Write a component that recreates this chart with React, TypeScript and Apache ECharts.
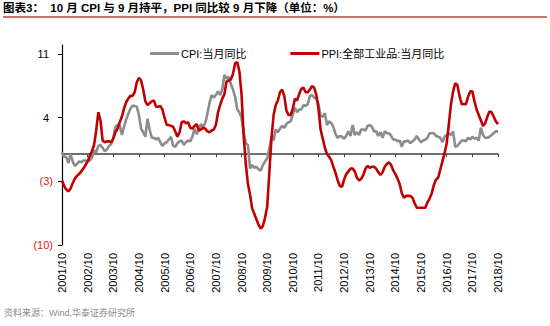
import React, { useEffect, useRef } from 'react';
import * as echarts from 'echarts';

const startYear = 2001;
const startMonth = 10;

// CPI: 当月同比 (%), 2001/10 - 2018/10
const cpi = [
  0.2, -0.3, -0.3,
  -1.0, 0.0, -0.8, -1.3, -1.1, -0.8, -0.9, -0.7, -0.7, -0.8, -0.7, -0.4,
  0.4, 0.2, 0.9, 1.0, 0.7, 0.3, 0.5, 0.9, 1.1, 1.8, 3.0, 3.2,
  3.2, 2.1, 3.0, 3.8, 4.4, 5.0, 5.3, 5.3, 5.2, 4.3, 2.8, 2.4,
  1.9, 3.9, 2.7, 1.8, 1.8, 1.6, 1.8, 1.3, 0.9, 1.2, 1.3, 1.6,
  1.9, 0.9, 0.8, 1.2, 1.4, 1.5, 1.0, 1.3, 1.5, 1.4, 1.9, 2.8,
  2.2, 2.7, 3.3, 3.0, 3.4, 4.4, 5.6, 6.5, 6.2, 6.5, 6.9, 6.5,
  7.1, 8.7, 8.3, 8.5, 7.7, 7.1, 6.3, 4.9, 4.6, 4.0, 2.4, 1.2,
  1.0, -1.6, -1.2, -1.5, -1.4, -1.7, -1.8, -1.2, -0.8, -0.5, 0.6, 1.9,
  1.5, 2.7, 2.4, 2.8, 3.1, 2.9, 3.3, 3.5, 3.6, 4.4, 5.1, 4.6,
  4.9, 4.9, 5.4, 5.3, 5.5, 6.4, 6.5, 6.2, 6.1, 5.5, 4.2, 4.1,
  4.5, 3.2, 3.6, 3.4, 3.0, 2.2, 1.8, 2.0, 1.9, 1.7, 2.0, 2.5,
  2.0, 3.2, 2.1, 2.4, 2.1, 2.7, 2.7, 2.6, 3.1, 3.2, 3.0, 2.5,
  2.5, 2.0, 2.4, 1.8, 2.5, 2.3, 2.3, 2.0, 1.6, 1.6, 1.4, 1.5,
  0.8, 1.4, 1.4, 1.5, 1.2, 1.4, 1.6, 2.0, 1.6, 1.3, 1.5, 1.6,
  1.8, 2.3, 2.3, 2.3, 2.0, 1.9, 1.8, 1.3, 1.9, 2.1, 2.3, 2.1,
  2.5, 0.8, 0.9, 1.2, 1.5, 1.5, 1.4, 1.8, 1.6, 1.9, 1.7, 1.8,
  1.5, 2.9, 2.1, 1.8, 1.8, 1.9, 2.1, 2.3, 2.5, 2.5,
];

// PPI: 全部工业品: 当月同比 (%), 2001/10 - 2018/10
const ppi = [
  -2.9, -3.5, -3.9,
  -4.1, -3.8, -3.2, -2.7, -2.4, -2.2, -1.9, -1.6, -1.2, -0.8, -0.2, 0.3,
  1.0, 2.6, 4.6, 3.7, 1.5, 1.3, 1.4, 1.4, 1.3, 1.7, 2.4, 2.8,
  3.5, 4.1, 5.0, 5.7, 6.1, 6.4, 6.4, 6.8, 7.9, 8.4, 8.1, 7.1,
  5.8, 5.4, 5.6, 5.8, 5.9, 5.2, 5.2, 5.3, 4.9, 4.0, 3.2, 3.2,
  3.1, 3.0, 2.5, 1.9, 2.4, 3.5, 3.6, 3.4, 3.5, 2.9, 2.8, 3.1,
  3.3, 2.6, 2.7, 2.9, 2.8, 2.5, 2.4, 2.6, 2.7, 3.2, 4.6, 5.4,
  6.1, 6.6, 8.0, 8.1, 8.2, 8.8, 10.0, 10.1, 9.1, 6.6, 2.0, -1.1,
  -3.3, -4.5, -6.0, -6.6, -7.2, -7.8, -8.2, -7.9, -7.0, -5.8, -2.1, 1.7,
  4.3, 5.4, 5.9, 6.8, 7.1, 6.4, 4.8, 4.3, 4.3, 5.0, 6.1, 5.9,
  6.6, 7.2, 7.3, 6.8, 6.8, 7.1, 7.5, 7.3, 6.5, 5.0, 2.7, 1.7,
  0.7, 0.0, -0.3, -0.7, -1.4, -2.1, -2.9, -3.5, -3.6, -2.8, -2.2, -1.9,
  -1.6, -1.6, -1.9, -2.6, -2.9, -2.7, -2.3, -1.6, -1.3, -1.5, -1.4, -1.4,
  -1.6, -2.0, -2.3, -2.0, -1.4, -1.1, -0.9, -1.2, -1.8, -2.2, -2.7, -3.3,
  -4.3, -4.8, -4.6, -4.6, -4.6, -4.8, -5.4, -5.9, -5.9, -5.9, -5.9, -5.9,
  -5.3, -4.9, -4.3, -3.4, -2.8, -2.6, -1.7, -0.8, 0.1, 1.2, 3.3, 5.5,
  6.9, 7.8, 7.6, 6.4, 5.5, 5.5, 5.5, 6.3, 6.9, 6.9, 5.8, 4.9,
  4.3, 3.7, 3.1, 3.4, 4.1, 4.7, 4.6, 4.1, 3.6, 3.3,
];

const yTicks = [-10, -3, 4, 11];
const seriesNames = ['CPI:当月同比', 'PPI:全部工业品:当月同比'];
const titleText = '图表3：  10 月 CPI 与 9 月持平，PPI 同比较 9 月下降（单位：%）';
const sourceText = '资料来源：Wind,华泰证券研究所';

const categories = cpi.map((_, i) => {
  const m = startMonth - 1 + i;
  const y = startYear + Math.floor(m / 12);
  const mm = (m % 12) + 1;
  return `${y}/${String(mm).padStart(2, '0')}`;
});

const FONT = "'Liberation Sans', Arial, 'Noto Sans CJK SC', sans-serif";
const isYearTick = (i: number) => i % 12 === 0;

export default function App() {
  const ref = useRef<HTMLDivElement>(null);
  useEffect(() => {
    document.body.style.margin = '0';
    if (!ref.current) return;
    const chart = echarts.init(ref.current, null, { renderer: 'svg' });
    chart.setOption({
      animation: false,
      textStyle: { fontFamily: FONT },
      title: {
        text: titleText,
        left: 3,
        top: 2,
        padding: 0,
        textStyle: { fontSize: 11.5, fontWeight: 'bold', color: '#000', fontFamily: FONT },
      },
      legend: {
        left: 145,
        top: 43,
        icon: 'rect',
        itemWidth: 29,
        itemHeight: 3,
        itemGap: 44,
        data: seriesNames,
        textStyle: { fontSize: 11, color: '#000', fontFamily: FONT, padding: [0, 0, 0, -3] },
      },
      grid: { left: 62, right: 52, top: 45, bottom: 81, containLabel: false },
      xAxis: [
        {
          type: 'category',
          data: categories,
          boundaryGap: false,
          axisLine: { onZero: true, lineStyle: { color: '#404040', width: 1.5 } },
          axisTick: { interval: isYearTick, length: 3, lineStyle: { color: '#404040' } },
          axisLabel: { show: false },
          splitLine: { show: false },
        },
        {
          type: 'category',
          data: categories,
          boundaryGap: false,
          position: 'bottom',
          axisLine: { show: false, onZero: false },
          axisTick: { show: false },
          axisLabel: {
            interval: isYearTick,
            rotate: 90,
            fontSize: 11,
            color: '#000',
            margin: 8,
            fontFamily: FONT,
          },
          splitLine: { show: false },
        },
      ],
      yAxis: {
        type: 'value',
        min: -10,
        max: 12,
        axisLine: { show: true, lineStyle: { color: '#000', width: 1.2 } },
        axisTick: { show: true, customValues: yTicks, length: 4, lineStyle: { color: '#000' } },
        axisLabel: {
          customValues: yTicks,
          margin: 9,
          fontSize: 11,
          fontFamily: FONT,
          formatter: (v: number) => (v < 0 ? `{neg|(${-v})}` : `{pos|${v}}`),
          rich: {
            neg: { color: '#e02020', fontSize: 11, fontFamily: FONT },
            pos: { color: '#000', fontSize: 11, fontFamily: FONT, padding: [0, 4, 0, 0] },
          },
        },
        splitLine: { show: false },
      },
      series: [
        {
          name: seriesNames[0],
          type: 'line',
          data: cpi,
          showSymbol: false,
          symbol: 'none',
          color: '#8c8c8c',
          lineStyle: { width: 2.6, color: '#8c8c8c' },
        },
        {
          name: seriesNames[1],
          type: 'line',
          data: ppi,
          showSymbol: false,
          symbol: 'none',
          color: '#c00000',
          lineStyle: { width: 2.6, color: '#c00000' },
        },
      ],
      graphic: [
        {
          type: 'line',
          shape: { x1: 3, y1: 17, x2: 547, y2: 17 },
          style: { stroke: '#b5493a', lineWidth: 1.5 },
        },
        {
          type: 'text',
          left: 4,
          top: 308,
          style: { text: sourceText, fontSize: 9, fill: '#8c8c8c', fontFamily: FONT },
        },
      ],
    });
    return () => chart.dispose();
  }, []);
  return <div ref={ref} style={{ width: 550, height: 326 }} />;
}
